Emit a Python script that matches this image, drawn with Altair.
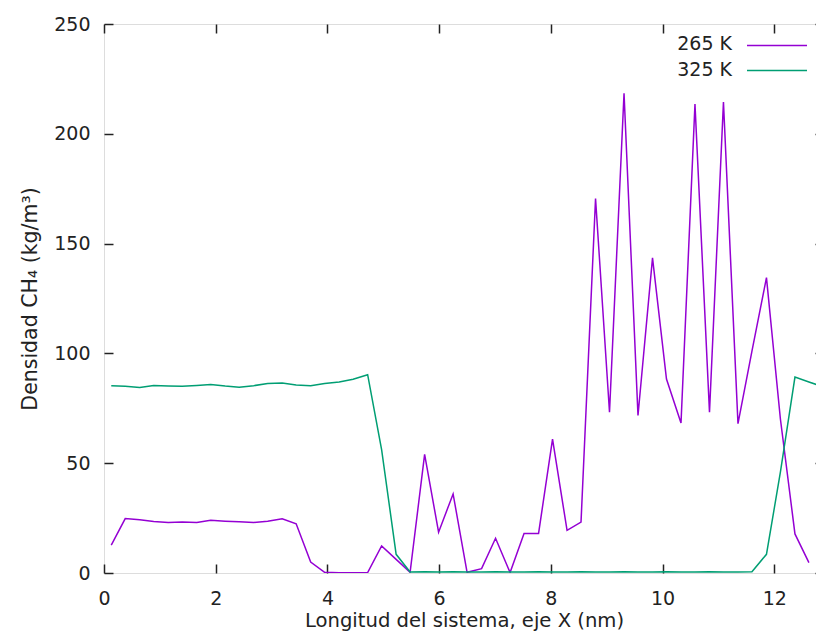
import altair as alt
import pandas as pd

# ---- data ----
x_nm = [0.13, 0.38, 0.64, 0.89, 1.15, 1.40, 1.66, 1.91, 2.17, 2.42,
        2.68, 2.93, 3.19, 3.44, 3.70, 3.95, 4.21, 4.46, 4.72, 4.97,
        5.23, 5.48, 5.74, 5.99, 6.25, 6.50, 6.76, 7.01, 7.27, 7.52,
        7.78, 8.03, 8.29, 8.54, 8.80, 9.05, 9.31, 9.56, 9.82, 10.07,
        10.33, 10.58, 10.84, 11.09, 11.35, 11.60, 11.86, 12.11, 12.37, 12.62,
        12.88]

rho_265 = [12.7, 24.8, 24.2, 23.5, 23.0, 23.2, 23.0, 24.0, 23.6, 23.3,
           23.0, 23.6, 24.7, 22.4, 5.0, 0.3, 0.1, 0.1, 0.2, 12.3,
           6.2, 0.3, 54.0, 18.6, 36.0, 0.3, 2.0, 15.8, 0.2, 18.0,
           18.0, 61.0, 19.4, 23.2, 170.5, 73.2, 218.5, 71.7, 143.5, 88.3,
           68.3, 213.5, 73.2, 214.5, 68.0, 101.0, 134.5, 70.0, 17.8, 4.7]

rho_325 = [85.3, 85.0, 84.5, 85.4, 85.2, 85.0, 85.4, 85.8, 85.1, 84.6,
           85.3, 86.3, 86.5, 85.6, 85.3, 86.3, 87.0, 88.2, 90.3, 56.2,
           8.5, 0.5, 0.6, 0.5, 0.6, 0.5, 0.5, 0.6, 0.5, 0.5,
           0.6, 0.5, 0.5, 0.6, 0.5, 0.5, 0.6, 0.5, 0.5, 0.6,
           0.5, 0.5, 0.6, 0.5, 0.5, 0.6, 8.5, 46.0, 89.2, 87.0,
           84.7]

series_names = ["265 K", "325 K"]
series_colors = ["#9400d3", "#009e73"]

x_ticks = [0, 2, 4, 6, 8, 10, 12]
y_ticks = [0, 50, 100, 150, 200, 250]

rows = []
for name, vals in zip(series_names, [rho_265, rho_325]):
    for xv, yv in zip(x_nm, vals):
        rows.append({"x": xv, "rho": yv, "serie": name})
df = pd.DataFrame(rows)

FONT = "DejaVu Sans"
INK = "#222222"
TICK = 9

xscale = alt.Scale(domain=[0, 12.89], nice=False, zero=False)
yscale = alt.Scale(domain=[0, 250], nice=False)

# ticks point into the plot (gnuplot style): the axis is moved inside by the
# tick length and its ticks then reach out to the frame
base_axis = dict(
    tickSize=TICK, offset=-TICK, domain=False, grid=False,
    tickColor=INK, tickWidth=1.5,
    labelFont=FONT, labelFontSize=19, labelColor=INK,
    labelFlush=False, labelOverlap=False,
)

lines = alt.Chart(df).mark_line(strokeWidth=1.5, clip=True).encode(
    x=alt.X("x:Q", scale=xscale,
            axis=alt.Axis(values=x_ticks, format="d", orient="bottom",
                          labelPadding=16,
                          title="Longitud del sistema, eje X (nm)",
                          titleFont=FONT, titleFontSize=19.6,
                          titleFontWeight="normal", titleColor=INK,
                          titlePadding=3, **base_axis)),
    y=alt.Y("rho:Q", scale=yscale,
            axis=alt.Axis(values=y_ticks, format="d", orient="left",
                          labelPadding=14,
                          title="Densidad CH₄ (kg/m³)",
                          titleFont=FONT, titleFontSize=20.5,
                          titleFontWeight="normal", titleColor=INK,
                          titlePadding=13, **base_axis)),
    color=alt.Color("serie:N", legend=None,
                    scale=alt.Scale(domain=series_names, range=series_colors)),
    detail="serie:N",
)

mirror = alt.Chart(df).mark_point(opacity=0).encode(
    x=alt.X("x:Q", scale=xscale,
            axis=alt.Axis(values=x_ticks, orient="top", labels=False, title=None,
                          **base_axis)),
    y=alt.Y("rho:Q", scale=yscale,
            axis=alt.Axis(values=y_ticks, orient="right", labels=False, title=None,
                          **base_axis)),
)

leg_df = pd.DataFrame({"serie": series_names, "row": [0, 1]})
leg_text = alt.Chart(leg_df).mark_text(
    align="right", baseline="middle", font=FONT, fontSize=19, color=INK
).encode(
    x=alt.value(628),
    y=alt.Y("row:Q", scale=alt.Scale(domain=[0, 1], range=[20, 46]), axis=None),
    text="serie:N",
)
leg_line = alt.Chart(leg_df).mark_rule(strokeWidth=1.5).encode(
    x=alt.value(643), x2=alt.value(703),
    y=alt.Y("row:Q", scale=alt.Scale(domain=[0, 1], range=[21.5, 46.5]), axis=None),
    color=alt.Color("serie:N", legend=None,
                    scale=alt.Scale(domain=series_names, range=series_colors)),
)

chart = alt.layer(lines, mirror, leg_line, leg_text).resolve_axis(
    x="independent", y="independent"
).resolve_scale(y="independent").properties(
    width=720, height=549, autosize="none",
    padding={"left": 96, "top": 16, "right": -8, "bottom": 62},
).configure_view(stroke=INK, strokeWidth=1.5).configure(background="white")

chart.save("out.html", embed_options={"renderer": "svg", "actions": False})
